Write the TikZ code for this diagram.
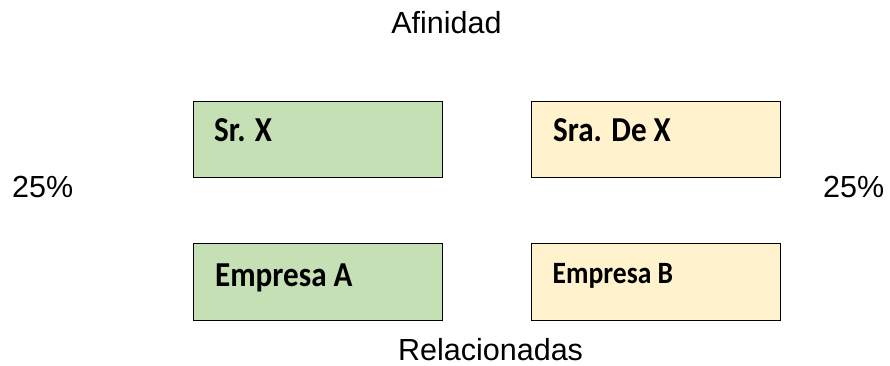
\documentclass[tikz,border=0pt]{standalone}
\usepackage{fontspec}
\setmainfont{Liberation Sans}
\newfontfamily\boxfont[FakeStretch=0.89]{Carlito}
\definecolor{boxgreen}{HTML}{C5E0B4}
\definecolor{boxyellow}{HTML}{FFF2CC}
\tikzset{
  panel/.style={draw=black, line width=1.2pt, rectangle, inner sep=0pt, anchor=south west},
  greenpanel/.style={panel, fill=boxgreen},
  yellowpanel/.style={panel, fill=boxyellow},
  boxtext/.style={anchor=base west, inner sep=0pt, font=\boxfont\bfseries\fontsize{35}{40}\selectfont},
  smallboxtext/.style={anchor=base west, inner sep=0pt, font=\boxfont\bfseries\fontsize{31}{36}\selectfont},
  plaintext/.style={inner sep=0pt, font=\fontsize{30.5}{36}\selectfont}
}
\begin{document}
\begin{tikzpicture}[x=1pt,y=1pt]
\useasboundingbox (0,0) rectangle (890,365);
% boxes
\node[greenpanel, minimum width=249pt, minimum height=76pt] (sx) at (193,187) {};
\node[yellowpanel, minimum width=249pt, minimum height=76pt] (sra) at (531,187) {};
\node[greenpanel, minimum width=249pt, minimum height=77pt] (ea) at (193,44) {};
\node[yellowpanel, minimum width=249pt, minimum height=77pt] (eb) at (531,44) {};
% box texts
\node[boxtext] (sxt) at (214,223.3) {Sr. X};
\node[boxtext] (srat) at (553,223.3) {Sra. De X};
\node[boxtext] (eat) at (215,79) {Empresa A};
\node[smallboxtext] (ebt) at (552.5,81.7) {Empresa B};
% outer labels
\node[plaintext, anchor=base] (afin) at (446.5,331.7) {Afinidad};
\node[plaintext, anchor=base west] (pl) at (12,168) {25\%};
\node[plaintext, anchor=base west] (pr) at (823,168) {25\%};
\node[plaintext, anchor=base west] (rel) at (398,5) {Relacionadas};
\end{tikzpicture}
\end{document}
